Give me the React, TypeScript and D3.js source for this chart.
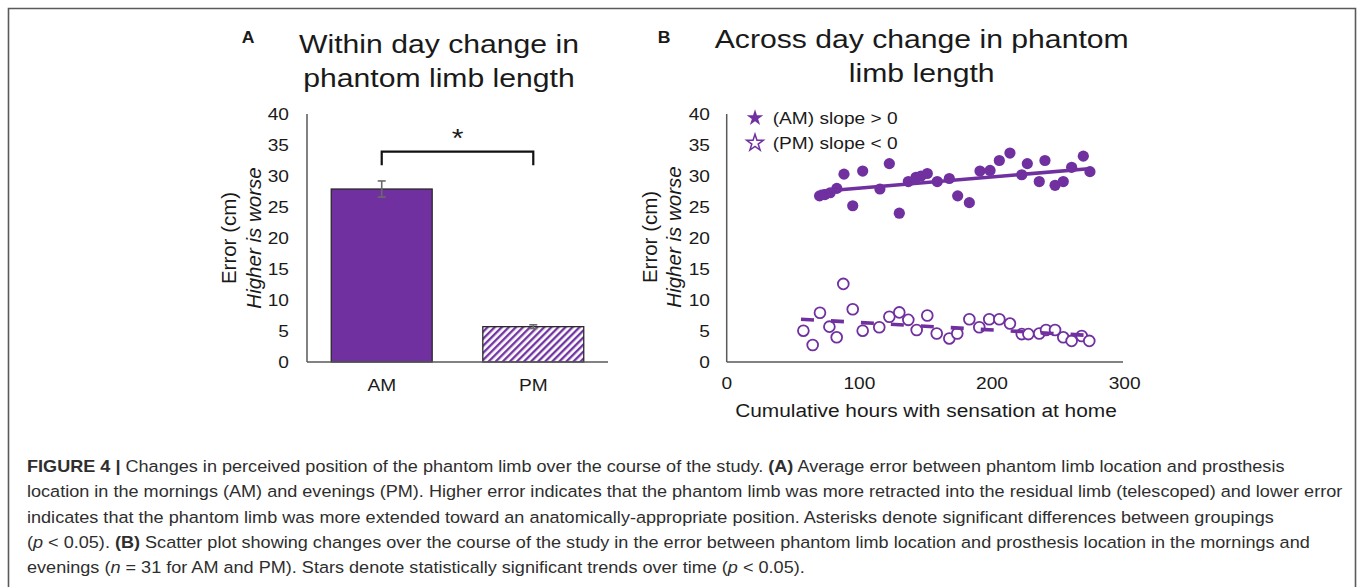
import React from "react";
import * as d3 from "d3";

// ---------- data ----------
const barCategories = ["AM", "PM"];
const barMeans = [27.9, 5.7];
const barErrors = [1.3, 0.3];
const yTickValues = [0, 5, 10, 15, 20, 25, 30, 35, 40];
const xTickValuesB = [0, 100, 200, 300];

const amHours = [70, 74, 78, 83, 88.4, 95, 102.5, 115.5, 122.6, 130.1, 136.9, 142.7, 146.5, 151.2, 158.7, 167.8, 174.1, 182.9, 190.9, 198.5, 205.5, 213.5, 222.4, 226.6, 235.6, 239.9, 247.5, 253.7, 260, 268.8, 273.8];
const amError = [26.8, 27.0, 27.3, 28.0, 30.3, 25.2, 30.8, 27.9, 32.0, 24.0, 29.1, 29.8, 30.0, 30.4, 29.1, 29.6, 26.8, 25.7, 30.8, 30.9, 32.5, 33.7, 30.2, 32.0, 29.1, 32.5, 28.5, 29.1, 31.4, 33.2, 30.7];

const pmHours = [57.8, 64.8, 70.3, 77.4, 82.9, 87.9, 95, 102.5, 115, 122.6, 130.1, 136.9, 143.2, 151.2, 158.3, 167.8, 173.8, 182.9, 190.4, 197.9, 205.5, 213.5, 222.4, 227.4, 235.6, 240.7, 247.5, 253.7, 260, 267.6, 273.3];
const pmError = [5.05, 2.74, 7.95, 5.7, 3.98, 12.6, 8.5, 5.05, 5.6, 7.3, 8.0, 6.8, 5.16, 7.5, 4.6, 3.8, 4.6, 6.9, 5.6, 6.9, 6.9, 6.2, 4.5, 4.5, 4.6, 5.16, 5.16, 3.98, 3.4, 4.2, 3.4];

const amTrendHours = [70, 275];
const amTrendError = [27.5, 31.2];
const pmTrendHours = [56, 272];
const pmTrendError = [6.9, 4.3];

const titleA = ["Within day change in", "phantom limb length"];
const titleB = ["Across day change in phantom", "limb length"];
const legendLabels = ["(AM) slope > 0", "(PM) slope < 0"];
const yAxisTitle = ["Error (cm)", "Higher is worse"];
const xAxisTitleB = "Cumulative hours with sensation at home";

// ---------- style ----------
const PURPLE = "#7030A0";
const FONT = "'Liberation Sans', Arial, Helvetica, sans-serif";
const SX = 1.16;
const AXIS = "#595959";
const INK = "#1a1a1a";

type TProps = {
  x: number; y: number; size: number; anchor?: string; weight?: string | number;
  italic?: boolean; rotate?: boolean; baseline?: string; fill?: string; sx?: number;
  children: React.ReactNode;
};
function T({ x, y, size, anchor = "middle", weight = "normal", italic = false, rotate = false, baseline, fill = INK, sx = SX, children }: TProps) {
  return (
    <text
      transform={`translate(${x},${y}) scale(${sx},1)${rotate ? " rotate(-90)" : ""}`}
      fontFamily={FONT}
      fontSize={size}
      fontWeight={weight}
      fontStyle={italic ? "italic" : "normal"}
      textAnchor={anchor}
      dominantBaseline={baseline}
      fill={fill}
    >
      {children}
    </text>
  );
}

export default function App() {
  // Panel A scales
  const yA = d3.scaleLinear().domain([0, 40]).range([362, 114]);
  const xA = d3.scaleBand<string>().domain(barCategories).range([307, 608]).paddingInner(0.334).paddingOuter(0.16);
  // Panel B scales
  const xB = d3.scaleLinear().domain([0, 300]).range([726.7, 1124.7]);
  const yB = d3.scaleLinear().domain([0, 40]).range([362, 114]);

  const trendLine = d3.line<[number, number]>().x((d) => xB(d[0])).y((d) => yB(d[1]));
  const amTrend = trendLine(amTrendHours.map((h, i) => [h, amTrendError[i]] as [number, number]));
  const pmTrend = trendLine(pmTrendHours.map((h, i) => [h, pmTrendError[i]] as [number, number]));

  const star = d3.symbol().type(d3.symbolStar).size(85)();

  const amX = xA("AM")! + xA.bandwidth() / 2;
  const pmX = xA("PM")! + xA.bandwidth() / 2;
  const bracketY = 151.7;

  const capSize = 16.5;
  const capSX = 1.097;
  const capX = 27;
  const capY0 = 472;
  const capDY = 25.3;

  return (
    <svg width={1357} height={587} style={{ position: "absolute", left: 0, top: 0, background: "#fff" }}>
      <defs>
        <pattern id="stripes" patternUnits="userSpaceOnUse" width={5} height={5} patternTransform="rotate(45)">
          <rect width={5} height={5} fill="#fff" />
          <line x1={1.2} y1={0} x2={1.2} y2={5} stroke={PURPLE} strokeWidth={2.3} />
        </pattern>
      </defs>

      {/* frame */}
      <path d="M8.5,600 L8.5,8.5 L1355.5,8.5 L1355.5,600" fill="none" stroke="#5a5a5a" strokeWidth={1.6} />

      {/* ================= Panel A ================= */}
      <T x={248} y={43.3} size={16} weight="bold" sx={1.1}>A</T>
      {titleA.map((t, i) => (
        <T key={t} x={439} y={53.3 + i * 33.4} size={26}>{t}</T>
      ))}

      {yTickValues.map((v) => (
        <T key={"ya" + v} x={289} y={yA(v)} size={16.5} anchor="end" baseline="central">{v}</T>
      ))}
      <T x={228} y={238} size={20.5} rotate baseline="central" sx={1}>{yAxisTitle[0]}</T>
      <T x={253} y={238} size={20.5} rotate italic baseline="central" sx={1}>{yAxisTitle[1]}</T>

      {barCategories.map((c, i) => (
        <rect
          key={c}
          x={xA(c)}
          y={yA(barMeans[i])}
          width={xA.bandwidth()}
          height={yA(0) - yA(barMeans[i])}
          fill={i === 0 ? PURPLE : "url(#stripes)"}
          stroke="#2a2a2a"
          strokeWidth={1.3}
        />
      ))}
      {barCategories.map((c, i) => {
        const cx = xA(c)! + xA.bandwidth() / 2;
        const top = yA(barMeans[i] + barErrors[i]);
        const bot = yA(barMeans[i] - barErrors[i]);
        return (
          <g key={"e" + c} stroke="#6a6a6a" strokeWidth={1.6}>
            <line x1={cx} x2={cx} y1={top} y2={bot} />
            <line x1={cx - 4} x2={cx + 4} y1={top} y2={top} />
            <line x1={cx - 4} x2={cx + 4} y1={bot} y2={bot} />
          </g>
        );
      })}
      {/* axes A */}
      <line x1={307} x2={307} y1={yA(40)} y2={yA(0)} stroke={AXIS} strokeWidth={1.5} />
      <line x1={307} x2={608} y1={yA(0)} y2={yA(0)} stroke={AXIS} strokeWidth={1.5} />
      {barCategories.map((c) => (
        <T key={"xl" + c} x={xA(c)! + xA.bandwidth() / 2} y={391} size={16.5}>{c}</T>
      ))}
      {/* significance bracket */}
      <path d={`M${amX},${bracketY + 13.5} V${bracketY} H${pmX} V${bracketY + 13.5}`} fill="none" stroke="#111" strokeWidth={2.2} />
      <T x={(amX + pmX) / 2} y={147} size={26}>*</T>

      {/* ================= Panel B ================= */}
      <T x={664} y={43.3} size={16} weight="bold" sx={1.1}>B</T>
      {titleB.map((t, i) => (
        <T key={t} x={921.7} y={48.3 + i * 33.4} size={26}>{t}</T>
      ))}
      {yTickValues.map((v) => (
        <T key={"yb" + v} x={710} y={yB(v)} size={16.5} anchor="end" baseline="central">{v}</T>
      ))}
      <T x={649} y={237} size={20.5} rotate baseline="central" sx={1}>{yAxisTitle[0]}</T>
      <T x={673} y={237} size={20.5} rotate italic baseline="central" sx={1}>{yAxisTitle[1]}</T>
      {xTickValuesB.map((v) => (
        <T key={"xb" + v} x={xB(v)} y={389} size={16.5}>{v}</T>
      ))}
      <T x={926} y={417} size={18}>{xAxisTitleB}</T>

      <line x1={xB(0)} x2={xB(0)} y1={yB(40)} y2={yB(0)} stroke={AXIS} strokeWidth={1.5} />
      <line x1={xB(0)} x2={1123} y1={yB(0)} y2={yB(0)} stroke={AXIS} strokeWidth={1.5} />

      {/* AM points */}
      {amHours.map((h, i) => (
        <circle key={"am" + i} cx={xB(h)} cy={yB(amError[i])} r={5.6} fill={PURPLE} />
      ))}
      <path d={amTrend!} stroke={PURPLE} strokeWidth={3.6} fill="none" />

      {/* PM points */}
      {pmHours.map((h, i) => (
        <circle key={"pm" + i} cx={xB(h)} cy={yB(pmError[i])} r={5.4} fill="#fff" stroke={PURPLE} strokeWidth={1.8} />
      ))}
      <path d={pmTrend!} stroke={PURPLE} strokeWidth={3.6} fill="none" strokeDasharray="13 17" />

      {/* legend */}
      <path d={star!} transform="translate(755,118)" fill={PURPLE} />
      <path d={star!} transform="translate(755,143)" fill="#fff" stroke={PURPLE} strokeWidth={1.5} />
      {legendLabels.map((l, i) => (
        <T key={l} x={772.7} y={118 + i * 25} size={16.5} anchor="start" baseline="central">{l}</T>
      ))}

      {/* ================= Caption ================= */}
      <g fontFamily={FONT} fontSize={capSize} fill="#2e2e2e" transform={`translate(${capX},0) scale(${capSX},1)`}>
        <text x={0} y={capY0}>
          <tspan fontWeight="bold">FIGURE 4 |</tspan> Changes in perceived position of the phantom limb over the course of the study. <tspan fontWeight="bold">(A)</tspan> Average error between phantom limb location and prosthesis
        </text>
        <text x={0} y={capY0 + capDY}>
          location in the mornings (AM) and evenings (PM). Higher error indicates that the phantom limb was more retracted into the residual limb (telescoped) and lower error
        </text>
        <text x={0} y={capY0 + 2 * capDY}>
          indicates that the phantom limb was more extended toward an anatomically-appropriate position. Asterisks denote significant differences between groupings
        </text>
        <text x={0} y={capY0 + 3 * capDY}>
          (<tspan fontStyle="italic">p</tspan> &lt; 0.05). <tspan fontWeight="bold">(B)</tspan> Scatter plot showing changes over the course of the study in the error between phantom limb location and prosthesis location in the mornings and
        </text>
        <text x={0} y={capY0 + 4 * capDY}>
          evenings (<tspan fontStyle="italic">n</tspan> = 31 for AM and PM). Stars denote statistically significant trends over time (<tspan fontStyle="italic">p</tspan> &lt; 0.05).
        </text>
      </g>
    </svg>
  );
}
